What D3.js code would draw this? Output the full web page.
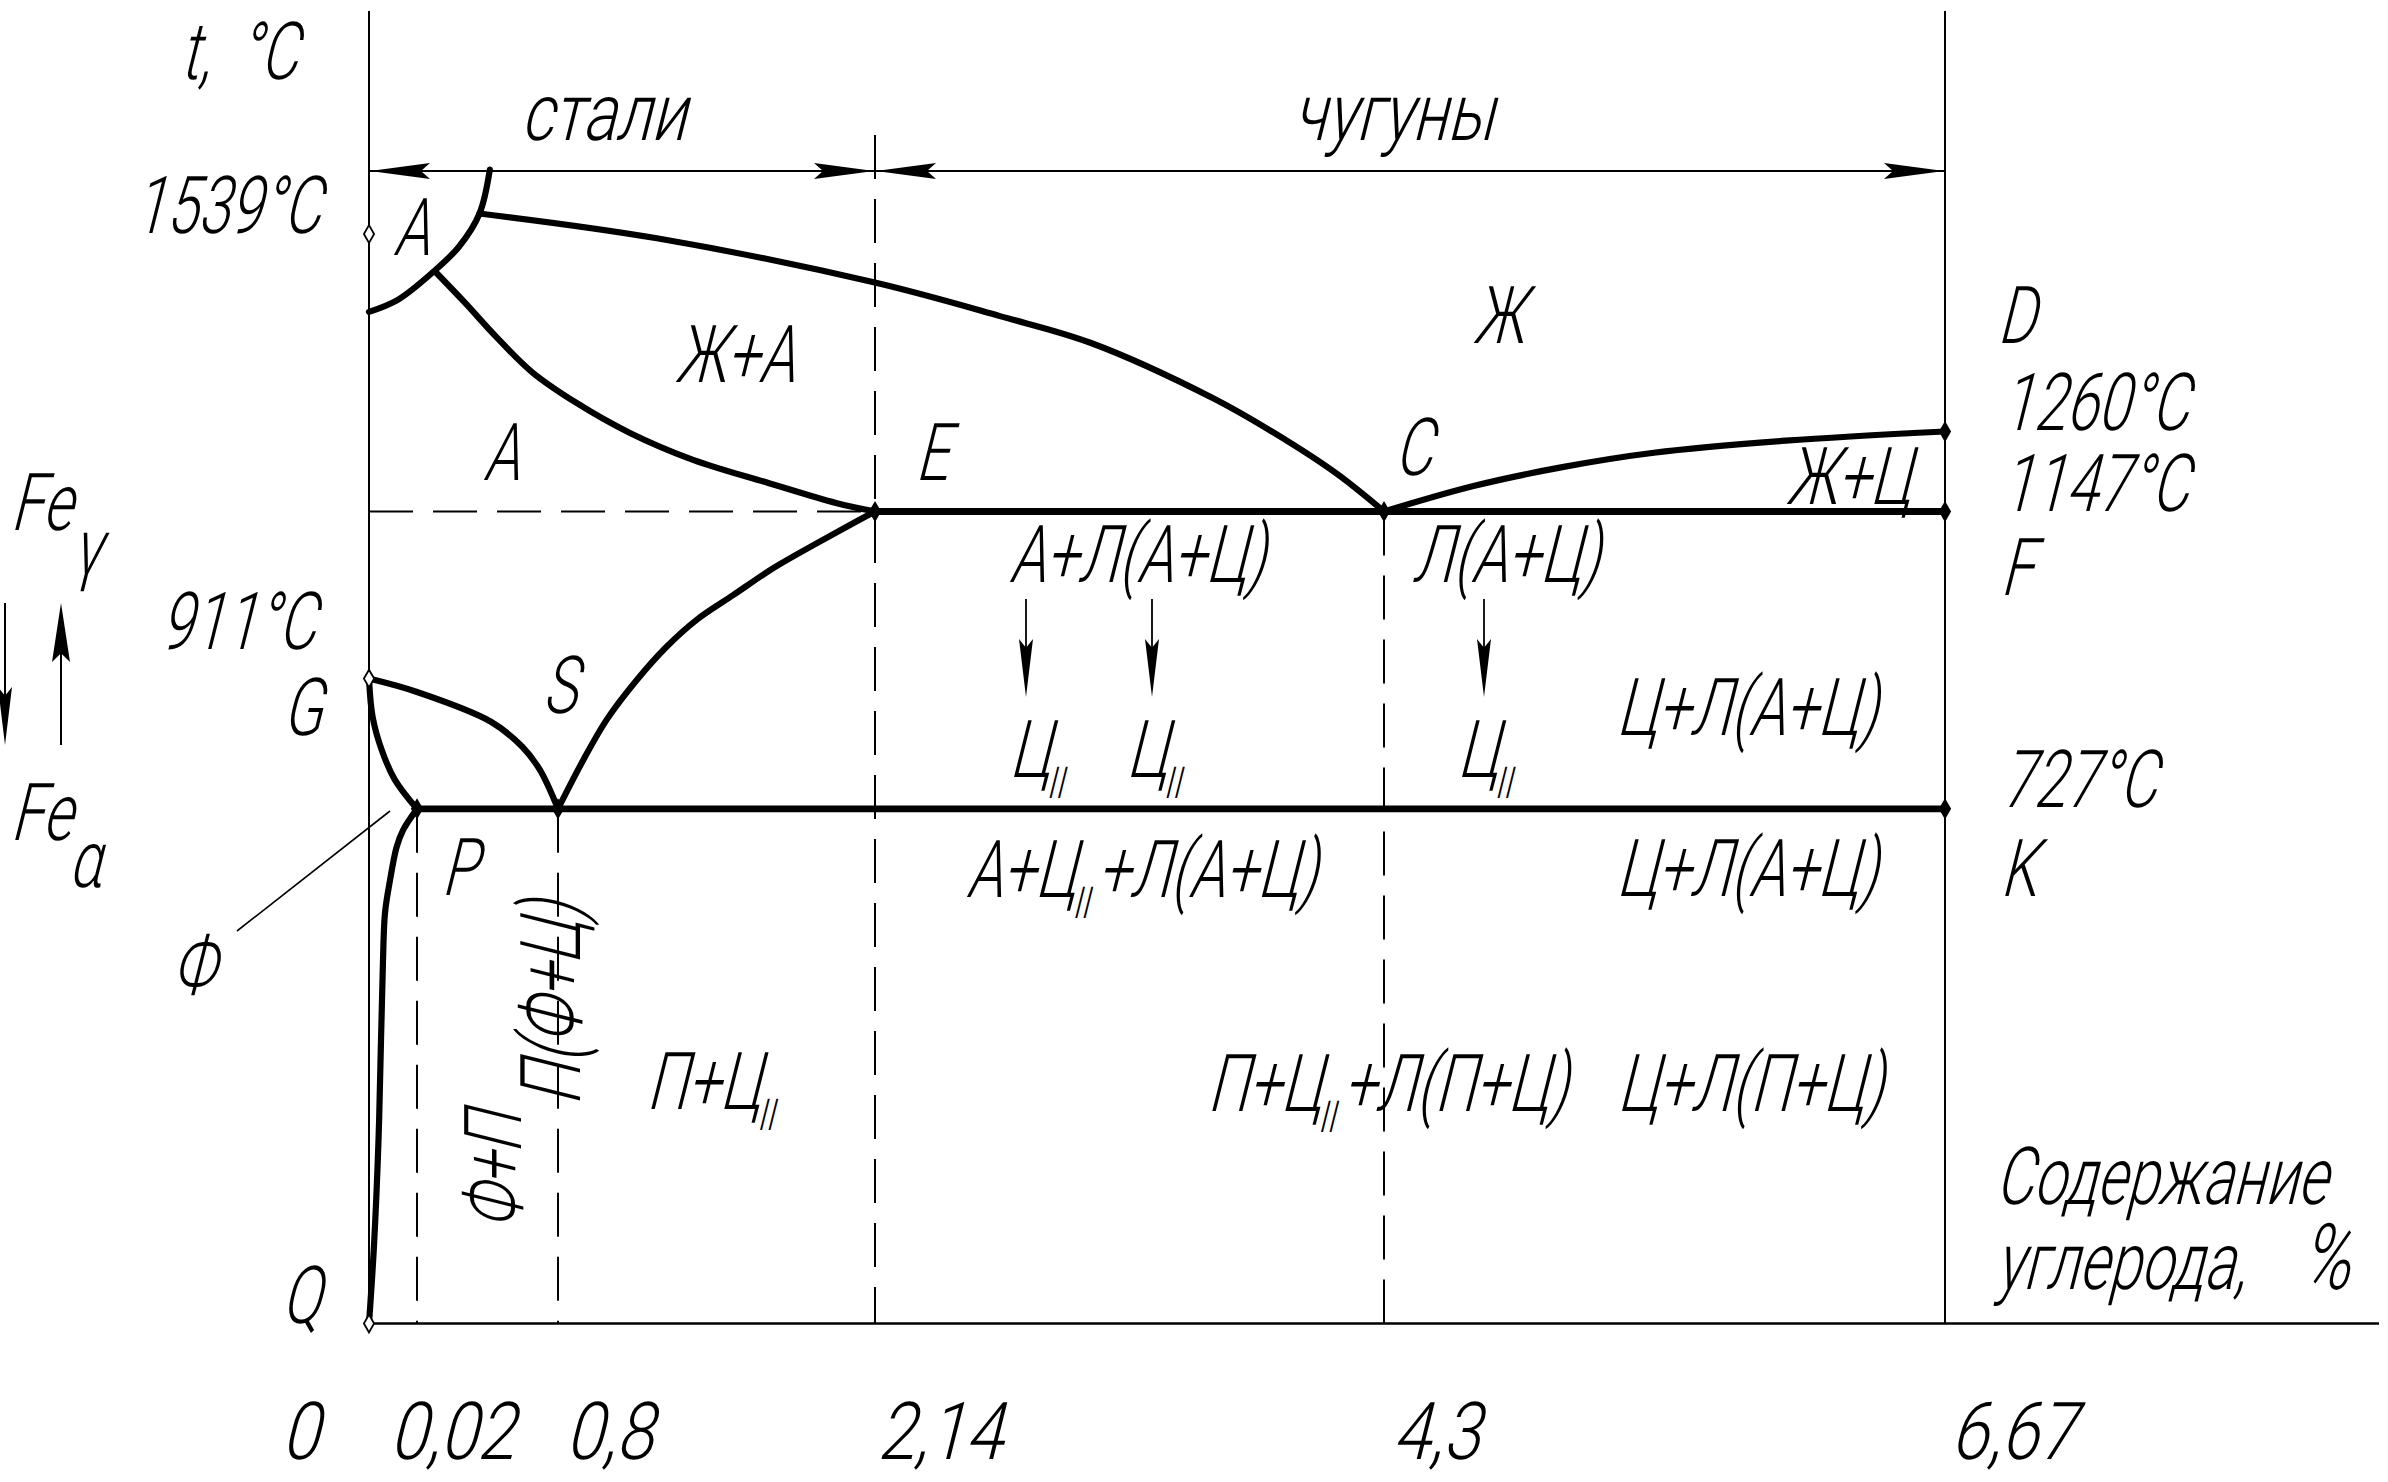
<!DOCTYPE html>
<html><head><meta charset="utf-8">
<script src="https://cdn.jsdelivr.net/npm/d3@7"></script>
<style>body{margin:0;background:#fff}svg{display:block}</style>
</head><body>
<svg id="c" width="2388" height="1482"></svg>
<script>
// ---------- DATA (carbon %, temperature °C) ----------
const carbonTicks = [0, 0.02, 0.8, 2.14, 4.3, 6.67];
const carbonTickLabels = ["0", "0,02", "0,8", "2,14", "4,3", "6,67"];
const tempTicks = [1539, 1260, 1147, 911, 727];
const tempTickLabels = ["1539°C", "1260°C", "1147°C", "911°C", "727°C"];
const deltaArc = [[0,1429],[0.012,1446],[0.112,1486],[0.252,1521],[0.366,1568],[0.423,1630]];
const liquidusABC = [[0.366,1568],[1.218,1533],[2.144,1470],[2.67,1423],[3.057,1385],[3.575,1307],[3.834,1258],[4.097,1201],[4.3,1147]];
const liquidusCD = [[4.3,1147],[4.678,1183],[5.059,1210],[5.44,1230],[5.997,1247],[6.67,1260]];
const solidusAE = [[0.12,1486],[0.285,1442],[0.457,1394],[0.656,1344],[0.88,1300],[1.104,1258],[1.371,1220],[1.692,1187],[1.975,1159],[2.14,1147]];
const lineES = [[0.8,727],[0.907,796],[1.006,853],[1.133,909],[1.259,956],[1.386,994],[1.541,1029],[1.71,1067],[1.893,1102],[2.034,1128],[2.14,1147]];
const lineGS = [[0,911],[0.02,892],[0.429,850],[0.601,815],[0.70,782],[0.8,727]];
const lineGP = [[0,911],[0.0015,857],[0.0053,810],[0.0108,768],[0.02,727]];
const linePQ = [[0.02,727],[0.0142,697],[0.0115,673],[0.00875,626],[0.00667,580],[0.00583,513],[0.005,400],[0.00396,259],[0.00208,110],[0,0]];
const eutecticLine = [[2.14,1147],[6.67,1147]];
const eutectoidLine = [[0.02,727],[6.67,727]];
const pointNames = ["A","G","Q","E","C","S","P","D","F","K"];
const pointCarbon = [0, 0, 0, 2.14, 4.3, 0.8, 0.02, 6.67, 6.67, 6.67];
const pointTemp = [1539, 911, 0, 1147, 1147, 727, 727, 1260, 1147, 727];
const rangeNames = ["стали", "чугуны"];
const rangeBounds = [[0, 2.14], [2.14, 6.67]];
const phaseLabels = ["А","Ж+А","А","Ж","Ж+Ц","А+Л(А+Ц)","Л(А+Ц)","Ц_{II}","Ц_{II}","Ц_{II}",
  "Ц+Л(А+Ц)","А+Ц_{II}+Л(А+Ц)","Ц+Л(А+Ц)","П+Ц_{II}","П+Ц_{II}+Л(П+Ц)","Ц+Л(П+Ц)","Ф"];

// ---------- LAYOUT ----------
const svg = d3.select("#c");
const x = d3.scaleLinear().domain(carbonTicks).range([369, 417, 558, 875, 1384, 1945]);
const y = d3.scaleLinear().domain([0, 1539]).range([1323.5, 234]);
const AXIS_TOP = 11, AXIS_RIGHT = 2379, DIM_Y = 171, DIM_DASH_TOP = 135;
const FS = 80, SX = 0.72, SKEW = -14;

const g = svg.append("g");
const line = d3.line().x(d => x(d[0])).y(d => y(d[1])).curve(d3.curveCatmullRom.alpha(0.5));
const straight = d3.line().x(d => x(d[0])).y(d => y(d[1]));

// axes (thin)
g.append("line").attr("x1", x(0)).attr("x2", x(0)).attr("y1", AXIS_TOP).attr("y2", y(0)).attr("stroke","#000").attr("stroke-width",2);
g.append("line").attr("x1", x(6.67)).attr("x2", x(6.67)).attr("y1", AXIS_TOP).attr("y2", y(0)).attr("stroke","#000").attr("stroke-width",2);
g.append("line").attr("x1", x(0)).attr("x2", AXIS_RIGHT).attr("y1", y(0)).attr("y2", y(0)).attr("stroke","#000").attr("stroke-width",2.5);

// dashed guides
const dash = "44,20";
const dashed = [
  [[0,1147],[2.14,1147]],
  [[0.02,727],[0.02,0]],
  [[0.8,727],[0.8,0]],
  [[4.3,1147],[4.3,0]]
];
dashed.forEach(s => g.append("path").attr("d", straight(s)).attr("fill","none").attr("stroke","#000").attr("stroke-width",2).attr("stroke-dasharray",dash));
g.append("line").attr("x1", x(2.14)).attr("x2", x(2.14)).attr("y1", DIM_DASH_TOP).attr("y2", y(0))
  .attr("stroke","#000").attr("stroke-width",2).attr("stroke-dasharray",dash);

// dimension line with arrowheads
function arrowHead(tx, ty, dir, len, half) {
  let p;
  if (dir === "l") p = [[tx,ty],[tx+len,ty-half],[tx+len*0.85,ty],[tx+len,ty+half]];
  if (dir === "r") p = [[tx,ty],[tx-len,ty-half],[tx-len*0.85,ty],[tx-len,ty+half]];
  if (dir === "d") p = [[tx,ty],[tx-half,ty-len],[tx,ty-len*0.85],[tx+half,ty-len]];
  if (dir === "u") p = [[tx,ty],[tx-half,ty+len],[tx,ty+len*0.85],[tx+half,ty+len]];
  g.append("path").attr("d", "M" + p.map(q => q.join(",")).join("L") + "Z").attr("fill","#000");
}
g.append("line").attr("x1", x(0)).attr("x2", x(6.67)).attr("y1", DIM_Y).attr("y2", DIM_Y).attr("stroke","#000").attr("stroke-width",2.2);
rangeBounds.forEach(b => {
  arrowHead(x(b[0]) + 1, DIM_Y, "l", 60, 8);
  arrowHead(x(b[1]) - 1, DIM_Y, "r", 60, 8);
});

// phase boundaries (thick)
[deltaArc, liquidusABC, liquidusCD, solidusAE, lineES, lineGS, lineGP, linePQ].forEach(c =>
  g.append("path").attr("d", line(c)).attr("fill","none").attr("stroke","#000").attr("stroke-width",6.2).attr("stroke-linejoin","round").attr("stroke-linecap","round"));
[eutecticLine, eutectoidLine].forEach(c =>
  g.append("path").attr("d", straight(c)).attr("fill","none").attr("stroke","#000").attr("stroke-width",6.8));

// point markers
const diamond = d3.symbol().type(d3.symbolDiamond).size(90);
pointNames.forEach((n, i) => {
  const open = (n === "A" || n === "G" || n === "Q");
  g.append("path").attr("d", diamond())
    .attr("transform", `translate(${x(pointCarbon[i])},${y(pointTemp[i])})`)
    .attr("fill", open ? "#fff" : "#000").attr("stroke","#000").attr("stroke-width",1.8);
});

// leader line for Ф
g.append("line").attr("x1", 390).attr("y1", 811).attr("x2", 237).attr("y2", 931).attr("stroke","#000").attr("stroke-width",1.6);

// small downward arrows (Ц_II precipitation)
[1026, 1152, 1484].forEach(ax => {
  g.append("line").attr("x1", ax).attr("x2", ax).attr("y1", 599).attr("y2", 650).attr("stroke","#000").attr("stroke-width",1.8);
  arrowHead(ax, 697, "d", 58, 7);
});
// Fe gamma/alpha arrows
g.append("line").attr("x1", 5).attr("x2", 5).attr("y1", 603).attr("y2", 700).attr("stroke","#000").attr("stroke-width",2);
arrowHead(5, 745, "d", 58, 7);
g.append("line").attr("x1", 61).attr("x2", 61).attr("y1", 650).attr("y2", 745).attr("stroke","#000").attr("stroke-width",2);
arrowHead(61, 603, "u", 59, 9);

// ---------- TEXT ----------
const T = svg.append("g").attr("font-family", "Roboto, 'DejaVu Sans', sans-serif").attr("font-weight", 300).attr("fill", "#000");
function label(str, px, py, opts = {}) {
  const fs = opts.fs || FS, sx = opts.sx || SX;
  let tr = `translate(${px},${py})`;
  if (opts.rot) tr += ` rotate(${opts.rot})`;
  tr += ` skewX(${SKEW}) scale(${sx},1)`;
  const t = T.append("text").attr("transform", tr).attr("font-size", fs).attr("text-anchor", opts.anchor || "start");
  const parts = str.split(/(_\{[^}]*\})/).filter(s => s.length);
  let shifted = false;
  parts.forEach(p => {
    const m = p.match(/^_\{([^}]*)\}$/);
    if (m) {
      t.append("tspan").attr("font-size", fs * 0.55).attr("dy", fs * 0.26).attr("dx", 2).text(m[1]);
      shifted = true;
    } else {
      const ts = t.append("tspan").text(p);
      if (shifted) { ts.attr("dy", -fs * 0.26).attr("dx", 4); shifted = false; }
    }
  });
  return t;
}

// axis titles
label("t,\u00a0\u00a0°C", 180, 79);
label("Содержание", 1995, 1204);
label("углерода,\u00a0\u00a0\u00a0", 1995, 1289);
label("%", 2300, 1289, {fs: 92});

// tick labels (carbon)
const tickDx = [-88, -28, 7, 2, 8, 5];
carbonTicks.forEach((c, i) => label(carbonTickLabels[i], x(c) + tickDx[i], 1459, {sx: 0.84}));

// temperature labels
const tempPos = [[133, 233], [2001, 430], [2001, 511], [160, 649], [2001, 807]];
tempTicks.forEach((t, i) => label(tempTickLabels[i], tempPos[i][0], tempPos[i][1]));

// range names over the dimension line
const rangePos = [[603, 140], [1393, 140]];
rangeNames.forEach((n, i) => label(n, rangePos[i][0], rangePos[i][1], {anchor: "middle", sx: 0.78}));

// point letters
const pointLabelPos = {A: null, G: [282, 735], Q: [281, 1323], E: [915, 480], C: [1394, 475], S: [542, 713], P: [441, 895], D: [1997, 343], F: [2000, 595], K: [2000, 896]};
pointNames.forEach(n => { if (pointLabelPos[n]) label(n, pointLabelPos[n][0], pointLabelPos[n][1]); });

// phase region labels
const phasePos = [[393,255],[675,382],[483,480],[1473,343],[1786,504],[1009,582],[1412,582],[1009,777],[1126,777],[1457,777],
  [1616,735],[966,897],[1616,896],[646,1109],[1207,1111],[1617,1111],[172,993]];
phaseLabels.forEach((s, i) => label(s, phasePos[i][0], phasePos[i][1]));

// rotated labels
label("Ф+П", 521, 1171, {rot: -90, anchor: "middle"});
label("П(Ф+Ц)", 580, 1004, {rot: -90, anchor: "middle", fs: 84});

// Fe gamma / alpha
label("Fe", 10, 530);
label("γ", 72, 575);
label("Fe", 10, 840);
label("α", 68, 887);
</script>
</body></html>
